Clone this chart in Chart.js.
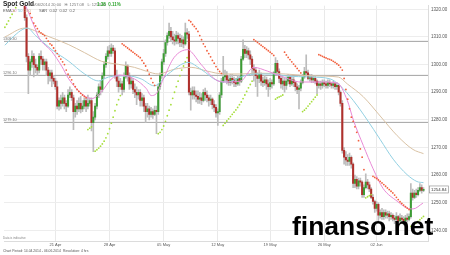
<!doctype html>
<html>
<head>
<meta charset="utf-8">
<script src="https://cdn.jsdelivr.net/npm/chart.js@4.4.1/dist/chart.umd.min.js"></script>
<style>body{margin:0;background:#fff;overflow:hidden}</style>
</head>
<body>
<canvas id="c" width="450" height="255"></canvas>
<script>
// Spot Gold, 4 hr candles, 14 Apr - 06 Jun 2014
const opens = [
  1325,1326,1328,1327,1329,1328,1327,1326,1327,1326,
  1325,1324,1317,1303,1298,1301,1303,1300,1299,1298,
  1303,1302,1300,1301,1298,1296,1297,1295,1294,1292,
  1285,1287,1286,1288,1286,1285,1289,1290,1288,1283,
  1285,1284,1286,1284,1285,1287,1285,1286,1287,1279,
  1281,1285,1289,1292,1291,1296,1300,1303,1305,1304,
  1306,1305,1296,1294,1292,1293,1291,1295.5,1299.5,1296,
  1293,1294,1291,1290,1289,1290,1287,1288,1285,1283,
  1284,1282,1283,1282,1283.5,1283,1292,1296,1301,1304,
  1308,1310.5,1312,1310,1309,1308.5,1310.5,1309.5,1308,1309,
  1307.5,1311.5,1311,1290,1289,1290.5,1289,1288.5,1287.5,1288,
  1287,1290,1289,1288,1287,1287.5,1285.5,1284.5,1282.5,1283,
  1289,1294,1295.5,1296,1294.5,1293.5,1295,1294.5,1293.5,1293,
  1295,1294,1302,1305.5,1304,1305,1303.5,1302,1298.5,1298,
  1296,1295,1296.5,1294,1293.5,1294.5,1293,1292,1293.5,1293,
  1297,1300.5,1297.5,1295,1293,1294,1292.5,1294,1295.5,1293,
  1294.5,1293.5,1292,1291,1291.5,1293.5,1295.5,1297.5,1297,1295,
  1295.5,1294.5,1295,1294,1292.5,1293,1292.5,1293.5,1293,1292.5,
  1293.5,1293,1292.5,1293,1292,1292.5,1290,1286,1269,1266.5,
  1265.5,1265,1266.5,1264,1257,1258.5,1256,1258,1257.5,1253,
  1255.5,1257.5,1256.5,1255,1252,1250.5,1248,1249.5,1245.5,1246.5,
  1245,1246.5,1245.5,1246,1245,1245.5,1244.5,1244,1245,1243.5,
  1244.5,1244,1243.5,1244.5,1244,1245,1253.5,1252,1253.5,1253,
  1254.5,1255.5,1254.5
];
const highs = [
  1327,1329,1330,1331,1330,1329,1328,1328,1328,1327,
  1326,1325,1318,1304,1302,1305,1304,1302,1300,1304,
  1305,1303,1302,1302,1299,1298,1298,1296,1295,1294,
  1288,1289,1290,1289,1287,1291,1292,1291,1289,1286,
  1287,1288,1288.5,1287,1288,1288,1289,1288,1288,1283,
  1286,1290,1293,1294,1297,1301,1304,1306.5,1307,1307.5,
  1307,1306,1298,1296,1295,1294,1297,1301,1300,1297,
  1295.5,1295,1293,1292,1291,1291,1289.5,1289,1286,1286,
  1285,1284.5,1284,1285,1285,1293,1297,1302,1305.5,1309,
  1311.5,1315,1313.5,1312,1311,1312,1311.5,1311,1310.5,1310,
  1315,1313,1312,1291.5,1292,1292,1290.5,1290.5,1290,1289.5,
  1291,1291.5,1290.5,1289,1289,1288,1287,1285.5,1284,1290,
  1295,1303,1298,1297.5,1296,1296.5,1296.5,1295.5,1295,1296,
  1296,1303,1309,1307,1306.5,1306,1305,1303,1300,1299,
  1297,1298,1297,1295.5,1296,1295.5,1294.5,1295,1294.5,1297.5,
  1302.5,1301.5,1298.5,1296,1295.5,1295,1295.5,1296.5,1296,1296,
  1295.5,1294,1293,1292.5,1294.5,1296.5,1299,1303.5,1298,1296.5,
  1296.5,1296,1296,1294.5,1294,1294,1294.5,1294.5,1294,1294.5,
  1294.5,1293.5,1294,1293.5,1293.5,1293,1290.5,1287,1270,1268.5,
  1267.5,1268,1267,1264.5,1260,1259.5,1259,1259,1258,1256.5,
  1260.5,1258.5,1257.5,1255.5,1253,1251,1250.5,1250,1247.5,1248,
  1247.5,1247.5,1247,1247,1246.5,1246,1245.5,1246.5,1245.5,1246,
  1245.5,1245,1245.5,1246,1246,1257,1255,1254.5,1255,1255.5,
  1257,1256.5,1255.5
];
const lows = [
  1322.5,1325,1326,1326,1326.5,1325.5,1324.5,1325,1324,1323.5,
  1322.5,1316,1301,1289.5,1296,1299,1295.5,1297,1296,1297,
  1300,1298,1298,1296,1293,1294,1292,1293,1291,1284,
  1283.5,1284,1285,1284,1283,1284.5,1288,1287,1276.5,1281,
  1282,1283,1282.5,1283,1284,1283,1284,1285,1276,1268.5,
  1280,1284,1288,1289,1290,1295,1299,1302,1303,1303,
  1304,1295,1292,1290,1291,1289,1290,1295,1294,1291,
  1291.5,1289.5,1288,1285.5,1287.5,1285,1285,1283,1279,1281,
  1280,1281,1280.5,1281.5,1275,1282,1291,1295,1300,1303,
  1307,1309.5,1308.5,1307.5,1307,1307.5,1307.5,1306.5,1306.5,1306,
  1307,1309.5,1289,1283.5,1287.5,1287.5,1286.5,1286,1286,1285.5,
  1286.5,1287,1286.5,1285,1285.5,1284,1283,1281,1278,1282,
  1288,1293.5,1294,1293,1292.5,1292.5,1293,1292,1292,1292.5,
  1292.5,1293.5,1301.5,1302.5,1302.5,1302,1300,1296,1294,1292,
  1288.5,1293.5,1292.5,1292,1292.5,1291,1288.5,1291,1291.5,1292.5,
  1296.5,1296,1293.5,1291.5,1291,1290,1291,1293,1292,1292.5,
  1292,1290.5,1289.5,1284,1290.5,1293,1295,1296,1294.5,1294,
  1293.5,1293.5,1293,1289.5,1291.5,1291,1291.5,1292,1291.5,1291.5,
  1292,1291.5,1291.5,1291,1291,1289,1285,1268,1264,1263.5,
  1263.5,1263.5,1262.5,1255.5,1255.5,1255,1255,1256,1252,1252,
  1255,1255,1254,1251.5,1249.5,1246.5,1247,1243,1244.5,1244,
  1244,1244.5,1244.5,1243.5,1244,1243.5,1242.5,1243,1241.5,1242.5,
  1243,1242,1243,1243,1243.5,1244.5,1251,1251.5,1252,1252.5,
  1254,1253.5,1254
];
const closes = [
  1326,1328,1327,1329,1328,1327,1326,1327,1326,1325,
  1324,1317,1303,1298,1301,1303,1300,1299,1298,1303,
  1302,1300,1301,1298,1296,1297,1295,1294,1292,1285,
  1287,1286,1288,1286,1285,1289,1290,1288,1283,1285,
  1284,1286,1284,1285,1287,1285,1286,1287,1279,1281,
  1285,1289,1292,1291,1296,1300,1303,1305,1304,1306,
  1305,1296,1294,1292,1293,1291,1295.5,1299.5,1296,1293,
  1294,1291,1290,1289,1290,1287,1288,1285,1283,1284,
  1282,1283,1282,1283.5,1283,1292,1296,1301,1304,1308,
  1310.5,1312,1310,1309,1308.5,1310.5,1309.5,1308,1309,1307.5,
  1311.5,1311,1290,1289,1290.5,1289,1288.5,1287.5,1288,1287,
  1290,1289,1288,1287,1287.5,1285.5,1284.5,1282.5,1283,1289,
  1294,1295.5,1296,1294.5,1293.5,1295,1294.5,1293.5,1293,1295,
  1294,1302,1305.5,1304,1305,1303.5,1302,1298.5,1298,1296,
  1295,1296.5,1294,1293.5,1294.5,1293,1292,1293.5,1293,1297,
  1300.5,1297.5,1295,1293,1294,1292.5,1294,1295.5,1293,1294.5,
  1293.5,1292,1291,1291.5,1293.5,1295.5,1297.5,1297,1295,1295.5,
  1294.5,1295,1294,1292.5,1293,1292.5,1293.5,1293,1292.5,1293.5,
  1293,1292.5,1293,1292,1292.5,1290,1286,1269,1266.5,1265.5,
  1265,1266.5,1264,1257,1258.5,1256,1258,1257.5,1253,1255.5,
  1257.5,1256.5,1255,1252,1250.5,1248,1249.5,1245.5,1246.5,1245,
  1246.5,1245.5,1246,1245,1245.5,1244.5,1244,1245,1243.5,1244.5,
  1244,1243.5,1244.5,1244,1245,1253.5,1252,1253.5,1253,1254.5,
  1255.5,1254.5,1254.84
];

// moving averages, [candle index, price]
const ema20 = [[0,1323],[10,1323.2],[12,1320.5],[16,1314.2],[19,1309.6],[26,1304.7],[31.5,1299.4],[35.4,1294.8],
  [42.5,1289.5],[48,1287.7],[53.6,1290.2],[59,1294.8],[63.5,1296.2],[71.8,1294.8],[78.4,1291.3],[81.1,1288.8],
  [83.9,1289.5],[88.3,1295.5],[93.8,1302.6],[101.5,1305.4],[103.2,1304.7],[108.7,1300.1],[118.1,1294.1],
  [122.5,1293.7],[130.8,1294.1],[137.9,1299],[145.7,1297.6],[152.8,1295.9],[164,1293.7],[175,1293.7],
  [184,1293.4],[189.8,1287],[193.1,1280],[198.6,1270.8],[204.1,1262.3],[209.6,1255.2],[217.4,1250.6],
  [222.9,1248.1],[226.2,1247.8],[231.7,1249.9]];
const ema50 = [[0,1307],[5,1310.3],[10,1312.8],[12.5,1313.2],[17,1310.5],[26,1305.4],[35.4,1301.2],[44.2,1296.6],
  [51.9,1294.1],[57.4,1295.5],[62.9,1295.9],[68.4,1295.9],[75.6,1294.8],[82.8,1292.3],[90.5,1296.6],
  [101.5,1300.8],[108.7,1298.3],[118.1,1294.1],[123.6,1293.7],[130.8,1295.5],[137.9,1296.6],[149,1296.6],
  [155.6,1295.9],[170,1295.5],[180.4,1294.8],[185.9,1292.3],[193.1,1287],[200.8,1280],[208,1272.9],
  [215.2,1265.8],[222.9,1260.2],[228.4,1257.7],[232,1257.3]];
const ema100 = [[0,1310],[11,1313.2],[22,1310.7],[35.4,1307.2],[44.2,1304.3],[53.6,1301.2],[62.9,1300.1],
  [71.8,1299],[78.4,1297.6],[85,1296.6],[93.8,1298.3],[103.2,1299],[112.4,1297.6],[121.4,1296.6],
  [130.8,1296.6],[140.2,1296.9],[155.6,1296.6],[171,1295.9],[184.8,1295.5],[189.8,1293],[198.6,1288.4],
  [208,1281.4],[217.4,1274.3],[226.2,1269.3],[232,1267.8]];

// parabolic SAR, [first candle index, values]
const sarAbove = [
  [14,[1318.5,1317,1315,1314,1313,1312,1311.5,1311,1310.5,1309.5,1308.5,1307.5,1307,1306,1305,1304,1303,1302,
       1301,1300,1298,1296.5,1295.5,1294.5,1293,1292,1291,1290.3,1289.6,1289,1288.5,1288]],
  [65,[1307.5,1307,1306.5,1306,1305.5,1305,1304.5,1304,1303.5,1303,1302.5,1301.5,1300.5,1299.5,1298,1296.5,
       1295,1293.5,1292.5]],
  [102,[1316,1315.5,1314.5,1313.8,1313,1312,1310.5,1309,1307.5,1306.5,1305,1304,1302.8,1301.5,1300.5,1299.3,
        1298.3,1297.5,1296.8]],
  [138,[1309,1308.5,1308,1307.5,1307,1306.5,1306,1305.5,1305,1304.5,1304,1303.3]],
  [155,[1304.5,1303.5,1302.6,1301.8,1301,1300.2,1299.4,1298.6,1297.8,1297]],
  [174,[1303.6,1303.3,1303,1302.7,1302.4,1302.1,1301.9,1301.6,1301.2,1300.8,1300.3,1299.8,1299,1298,1295,1291,
        1287.5,1284,1281,1279.5,1277.5,1275.5,1272.5,1269.5,1266.5,1262]],
  [204,[1259.6,1259.2,1258.8,1258.3,1257.8,1257.2,1256.6,1256,1255.4,1254.8,1254.2,1253.6,1252.8,1252,1251.2,
        1250.4,1249.8,1249.2,1248.6,1248.1,1247.6]]
];
const sarBelow = [
  [0,[1313.5,1314.6,1315.8,1317,1318.2,1319.4,1320.6]],
  [46,[1276.5,1277,1277.5]],
  [50,[1268.7,1269.2,1269.8,1270.5,1271.3,1272.3,1273.5,1275,1276.8,1278.8,1281,1283.3,1285.5,1287.3,1288.8]],
  [85,[1275,1275.5,1276.5,1277.8,1279.5,1281.5,1283.5,1285.5,1287.8,1290,1292,1294,1296,1298,1299.5,1301,1302.5]],
  [121,[1278,1278.8,1279.6,1280.4,1281.2,1282,1282.8,1283.6,1284.5,1285.5,1286.5,1287.7,1289,1290.3,1291.6,
        1292.8,1294]],
  [150,[1287.5,1288,1288.3,1288.6,1289]],
  [165,[1283,1283.5,1284.2,1285,1285.8,1286.6,1287.4,1288.2,1289]],
  [200,[1251.8,1252.2,1252.6,1253]],
  [225,[1241.5,1241.8,1242.3,1242.8,1243.3,1243.9,1244.5,1245.1]]
];

const levels = [1308.4, 1296.1, 1279.1];
const yTicks = [1240, 1250, 1260, 1270, 1280, 1290, 1300, 1310, 1320];
const dateIdx = [28, 58, 88, 118, 147, 177, 206];
const dateLabels = ['21 Apr', '28 Apr', '05 May', '12 May', '19 May', '26 May', '02 Jun'];

const UP = '#3c9c34', DOWN = '#b0302c', WICK = '#bcbcbc';
const FONT = 'Liberation Sans';

const n = closes.length;
const idx = closes.map((_, i) => i);
const wicks = idx.map(i => ({x: i, y: [lows[i], highs[i]]}));
const bodies = idx.map(i => ({x: i, y: [opens[i], closes[i]]}));
const bodyCol = idx.map(i => closes[i] >= opens[i] ? UP : DOWN);
const pairs = a => a.map(p => ({x: p[0], y: p[1]}));
const sarPts = segs => segs.flatMap(([s, vals]) => vals.map((v, k) => ({x: s + k, y: v})));

const lineDs = (data, color) => ({
  type: 'line', data: pairs(data), borderColor: color, borderWidth: 1,
  pointRadius: 0, cubicInterpolationMode: 'monotone'
});
const dotDs = (data, color) => ({
  type: 'line', data: sarPts(data), showLine: false, pointRadius: 0.9,
  pointBackgroundColor: color, pointBorderWidth: 0
});

const overlay = {
  id: 'overlay',
  afterDraw(chart) {
    const ctx = chart.ctx, ys = chart.scales.y;
    ctx.save();
    ctx.textBaseline = 'middle';
    // header
    ctx.fillStyle = '#222';
    ctx.font = 'bold 6.5px ' + FONT;
    ctx.fillText('Spot Gold', 3, 4.5);
    ctx.fillStyle = '#777';
    ctx.font = '4px ' + FONT;
    ctx.fillText('06/06/2014 20:00   H: 1257.08   L: 1253.40', 30, 4.5);
    ctx.fillStyle = '#2ea52e';
    ctx.font = 'bold 4.5px ' + FONT;
    ctx.fillText('1.38  0.11%', 97, 4.5);
    ctx.font = '4px ' + FONT;
    ctx.fillStyle = '#666';
    ctx.fillText('EMA', 3, 11);
    ctx.fillStyle = '#e07ad0'; ctx.fillText('20', 12, 11);
    ctx.fillStyle = '#7cc4dc'; ctx.fillText('50', 18, 11);
    ctx.fillStyle = '#c9ab86'; ctx.fillText('100', 24, 11);
    ctx.fillStyle = '#666';
    ctx.fillText('SAR  0.02  0.02  0.2', 39, 11);
    // level labels
    ctx.fillStyle = '#777';
    ctx.font = '3.8px ' + FONT;
    levels.forEach(v => ctx.fillText(v.toFixed(2), 3, ys.getPixelForValue(v) - 2.5));
    // last price box
    const yp = ys.getPixelForValue(closes[n - 1]);
    ctx.fillStyle = '#fff';
    ctx.fillRect(429.5, yp - 3.5, 19, 7);
    ctx.strokeStyle = '#999';
    ctx.lineWidth = 0.7;
    ctx.strokeRect(429.5, yp - 3.5, 19, 7);
    ctx.fillStyle = '#333';
    ctx.font = '4.3px ' + FONT;
    ctx.fillText(closes[n - 1].toFixed(2), 431, yp);
    // footer
    ctx.fillStyle = '#888';
    ctx.font = '3px ' + FONT;
    ctx.fillText('Data is indicative', 3, 238.5);
    ctx.fillStyle = '#555';
    ctx.font = '3.4px ' + FONT;
    ctx.fillText('Chart Period: 14.04.2014 - 06.06.2014', 3, 251.5);
    ctx.fillText('Resolution: 4 hrs', 63, 251.5);
    // watermark
    ctx.fillStyle = '#000';
    ctx.font = 'bold 26.5px ' + FONT;
    ctx.textBaseline = 'alphabetic';
    ctx.fillText('finanso.net', 292, 235);
    ctx.restore();
  }
};

new Chart(document.getElementById('c'), {
  data: {
    datasets: [
      dotDs(sarAbove, '#f2603e'),
      dotDs(sarBelow, '#a6de3c'),
      lineDs(ema20, '#e88ad6'),
      lineDs(ema50, '#92d0e2'),
      lineDs(ema100, '#d9c2a4'),
      {type: 'bar', data: bodies, backgroundColor: bodyCol, barThickness: 1.4, grouped: false, minBarLength: 1},
      {type: 'bar', data: wicks, backgroundColor: WICK, barThickness: 1, grouped: false},
      ...levels.map(v => ({type: 'line', data: [{x: -0.5, y: v}, {x: 234.5, y: v}],
        borderColor: '#a2a2a2', borderWidth: 1, pointRadius: 0}))
    ]
  },
  options: {
    responsive: false,
    animation: false,
    devicePixelRatio: 1,
    layout: {padding: {left: 2, right: 0, top: 0, bottom: 0}},
    plugins: {legend: {display: false}, tooltip: {enabled: false}},
    scales: {
      x: {
        type: 'linear', position: 'bottom', min: -0.5, max: 234.5, offset: false,
        afterBuildTicks: s => { s.ticks = dateIdx.map(v => ({value: v})); },
        afterFit: s => { s.height = 14; s.paddingLeft = 0; s.paddingRight = 0; },
        ticks: {
          callback: v => dateLabels[dateIdx.indexOf(v)],
          font: {family: FONT, size: 4}, color: '#555', padding: 1, maxRotation: 0, autoSkip: false
        },
        grid: {color: '#e9e9e9', drawTicks: false, offset: false},
        border: {color: '#dcdcdc'}
      },
      y: {
        type: 'linear', position: 'right', min: 1236.2, max: 1321.3,
        afterBuildTicks: s => { s.ticks = yTicks.map(v => ({value: v})); },
        afterFit: s => { s.width = 22; },
        ticks: {
          callback: v => v.toFixed(2),
          font: {family: FONT, size: 4.5}, color: '#555', padding: 3
        },
        grid: {color: '#ededed', drawTicks: false},
        border: {color: '#dcdcdc'}
      }
    }
  },
  plugins: [overlay]
});
</script>
</body>
</html>
